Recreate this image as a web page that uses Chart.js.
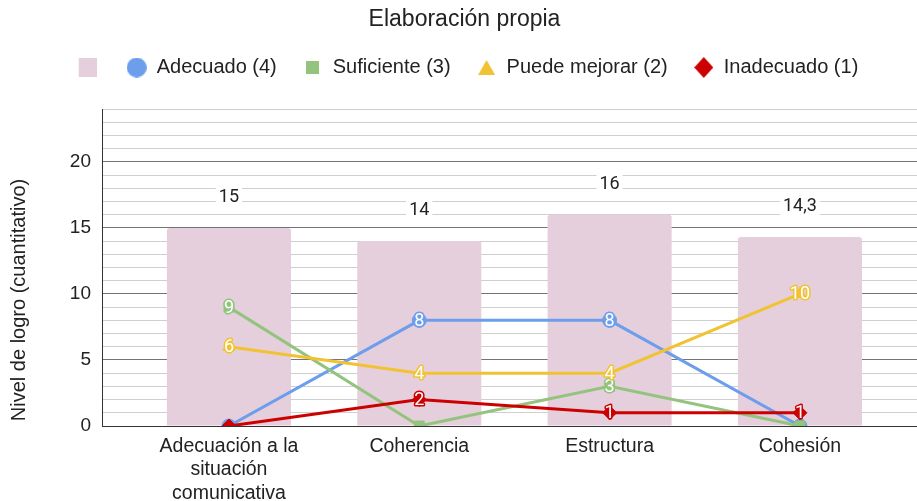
<!DOCTYPE html>
<html><head><meta charset="utf-8">
<script src="https://cdn.jsdelivr.net/npm/chart.js@4"></script>
<style>html,body{margin:0;padding:0;background:#fff;overflow:hidden}#wrap{width:917px;height:501px}canvas{display:block}</style>
</head><body><div id="wrap"><canvas id="c" width="917" height="501"></canvas></div>
<script>
// ---- data ----
const categories = [["Adecuación a la","situación","comunicativa"], "Coherencia", "Estructura", "Cohesión"];
const barValues = [15, 14, 16, 14.3];
const adecuado = [0, 8, 8, 0];
const suficiente = [9, 0, 3, 0];
const puedeMejorar = [6, 4, 4, 10];
const inadecuado = [0, 2, 1, 1];
const seriesNames = ["", "Adecuado (4)", "Suficiente (3)", "Puede mejorar (2)", "Inadecuado (1)"];
const yTickLabels = [0, 5, 10, 15, 20];
const chartTitle = "Elaboración propia";
const yTitle = "Nivel de logro (cuantitativo)";

// ---- styles ----
const C = {bar:'#e6cfdd', blue:'#6d9eeb', green:'#93c47d', yellow:'#f1c232', red:'#cc0000', text:'#222222'};
const SANS = "'Liberation Sans', Arial, sans-serif";
const ROBOTO = "Roboto, 'Liberation Sans', sans-serif";

const toXY = arr => arr.map((v, i) => ({x: i, y: v}));

function marker(kind, color, w, h, shift) {
  shift = shift || 0;
  const c = document.createElement('canvas'); c.width = w + 2 * shift; c.height = h;
  const g = c.getContext('2d'); g.fillStyle = color; g.beginPath();
  g.translate(2 * shift, 0);
  if (kind === 'rect') g.rect(0, 0, w, h);
  else if (kind === 'circle') g.arc(w/2, h/2, w/2, 0, Math.PI*2);
  else if (kind === 'tri') { g.moveTo(w/2, 0); g.lineTo(w, h); g.lineTo(0, h); g.closePath(); }
  else if (kind === 'diamond') { g.moveTo(w/2, 0); g.lineTo(w, h/2); g.lineTo(w/2, h); g.lineTo(0, h/2); g.closePath(); }
  g.fill();
  return c;
}
const legendMarkers = [
  marker('rect', C.bar, 18, 19, 7),
  marker('circle', C.blue, 20, 20),
  marker('rect', C.green, 13, 13),
  marker('tri', C.yellow, 17, 15),
  marker('diamond', C.red, 19, 21)
];

const lineDs = (i, vals, color, style, order) => ({
  type: 'line', label: seriesNames[i], data: toXY(vals),
  borderColor: color, backgroundColor: color, borderWidth: 3, tension: 0,
  pointStyle: style, pointRadius: 7, pointBorderWidth: 1, pointBorderColor: color,
  pointBackgroundColor: color, order: order, clip: 0
});

const valueLabels = {
  id: 'valueLabels',
  afterDatasetsDraw(chart) {
    const c = chart.ctx;
    c.save();
    c.textAlign = 'center'; c.textBaseline = 'middle';
    chart.data.datasets.forEach((ds, di) => {
      const meta = chart.getDatasetMeta(di);
      meta.data.forEach((el, i) => {
        const v = ds.data[i].y;
        const txt = String(v).replace('.', ',');
        if (ds.type === 'bar') {
          c.font = '18px ' + ROBOTO;
          const w = c.measureText(txt).width;
          const y = el.y - 30.5;
          c.fillStyle = '#ffffff';
          c.fillRect(el.x - w/2 - 3, y - 10, w + 6, 20);
          c.fillStyle = C.text;
          c.fillText(txt, el.x, y);
        } else if (v !== 0) {
          c.font = '18px ' + ROBOTO;
          c.lineJoin = 'round';
          c.lineWidth = 3;
          c.strokeStyle = ds.borderColor;
          c.strokeText(txt, el.x, el.y + 1);
          c.fillStyle = '#ffffff';
          c.fillText(txt, el.x, el.y + 1);
        }
      });
    });
    c.restore();
  }
};

const yTitlePlugin = {
  id: 'yTitle',
  afterDraw(chart) {
    const c = chart.ctx;
    c.save();
    c.translate(19, 300);
    c.rotate(-Math.PI/2);
    c.font = '20px ' + SANS;
    c.fillStyle = C.text;
    c.textAlign = 'center'; c.textBaseline = 'middle';
    c.fillText(yTitle, 0, 0);
    c.restore();
  }
};

new Chart(document.getElementById('c'), {
  type: 'bar',
  data: {
    datasets: [
      {type: 'bar', label: seriesNames[0], data: toXY(barValues), backgroundColor: C.bar,
       borderRadius: {topLeft: 3, topRight: 3}, borderSkipped: 'bottom',
       barPercentage: 0.652, categoryPercentage: 1, grouped: false, order: 10},
      lineDs(1, adecuado, C.blue, 'circle', 4),
      lineDs(2, suficiente, C.green, 'rect', 3),
      lineDs(3, puedeMejorar, C.yellow, 'triangle', 2),
      lineDs(4, inadecuado, C.red, 'rectRot', 1)
    ]
  },
  options: {
    responsive: false, animation: false,
    layout: {autoPadding: false, padding: {left: 12, right: 0, top: 0, bottom: 0}},
    plugins: {
      tooltip: {enabled: false},
      title: {display: true, text: chartTitle, color: C.text,
              font: {family: SANS, size: 23, weight: 'normal', lineHeight: 1},
              padding: {top: 8.5, bottom: 0}},
      subtitle: {display: true, text: '', weight: 500, position: 'top',
                 font: {size: 1, lineHeight: 1}, padding: {top: 0, bottom: 20.5}},
      legend: {
        position: 'top',
        labels: {
          usePointStyle: true, pointStyleWidth: 20, boxHeight: 20, padding: 26,
          color: C.text, font: {family: SANS, size: 20},
          generateLabels(chart) {
            return chart.data.datasets.map((ds, i) => ({
              text: ds.label, pointStyle: legendMarkers[i], fillStyle: ds.backgroundColor,
              strokeStyle: ds.backgroundColor, lineWidth: 0, hidden: false, datasetIndex: i,
              fontColor: C.text
            }));
          }
        }
      }
    },
    scales: {
      x: {
        type: 'linear', min: -0.667, max: 3.615, offset: false,
        afterBuildTicks: s => { s.ticks = categories.map((_, i) => ({value: i})); },
        afterFit: s => { s.height = 75; s.paddingLeft = 0; s.paddingRight = 0; },
        grid: {display: false, drawTicks: false, offset: false},
        border: {display: true, color: '#333333', width: 1},
        ticks: {
          autoSkip: false, maxRotation: 0, padding: 9, color: C.text,
          font: {family: SANS, size: 19.5, lineHeight: 1.2},
          callback: v => categories[v]
        }
      },
      y: {
        min: 0, max: 24,
        afterFit: s => { s.width = 90; s.paddingTop = 0; s.paddingBottom = 0; },
        grid: {drawTicks: false,
               color: ctx => (ctx.tick && ctx.tick.value % 5 === 0) ? '#747474' : '#cfcfcf'},
        border: {display: true, color: '#333333', width: 1},
        ticks: {
          stepSize: 1, autoSkip: false, padding: 11, color: C.text,
          font: {family: SANS, size: 19},
          callback: v => yTickLabels.includes(v) ? String(v) : ''
        }
      }
    }
  },
  plugins: [valueLabels, yTitlePlugin]
});
</script>
</body></html>
